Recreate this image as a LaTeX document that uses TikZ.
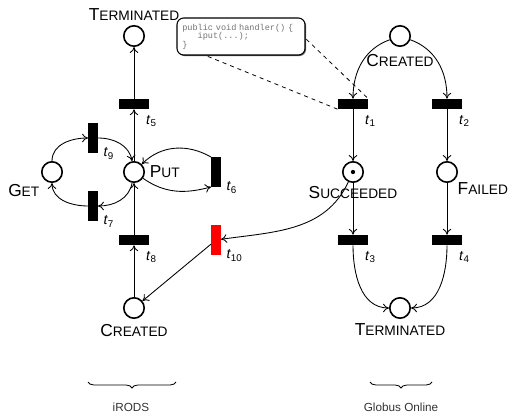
\documentclass[tikz,border=0pt]{standalone}
\usepackage{fontspec}
\setmainfont{Liberation Sans}
\newfontfamily\codefont{Liberation Mono}
\usetikzlibrary{arrows.meta, positioning, shadows, decorations.pathreplacing}

% state names in small capitals, transition names t_i
\newcommand\pn[2]{{\fontsize{13}{15}\selectfont #1\fontsize{10.3}{12}\selectfont\MakeUppercase{#2}}}
\newcommand\tn[1]{{\fontsize{10.5}{12}\selectfont\textit{t}\textsubscript{#1}}}

\begin{document}
\begin{tikzpicture}[
    x=0.75pt, y=0.75pt,
    node distance=51pt and 61.5pt, on grid,
    label distance=0pt,
    place/.style={
        circle,
        draw,
        line width=1.2pt,
        minimum size=15.3pt,
        inner sep=0pt
    },
    htrans/.style={
        rectangle,
        fill=black,
        minimum width=22.5pt,
        minimum height=7.5pt,
        inner sep=0pt
    },
    vtrans/.style={
        rectangle,
        fill=black,
        minimum width=7pt,
        minimum height=22pt,
        inner sep=0pt
    },
    hlab/.style={label={[anchor=north west, inner sep=0pt, xshift=-2.5pt, yshift=-4.5pt]south east:\tn{#1}}},
    vlab/.style={label={[anchor=north west, inner sep=0pt, xshift=4pt, yshift=4pt]south east:\tn{#1}}},
    every label/.style={inner sep=3.5pt},
    arrow/.style={
        -{To[length=4.5pt, width=6.5pt]},
        line width=0.65pt
    },
    codebox/.style={
        draw,
        fill=white,
        rounded corners=5pt,
        line width=0.8pt,
        minimum width=96pt,
        minimum height=27.75pt,
        text width=88pt,
        inner xsep=4pt,
        align=left,
        font=\codefont\fontsize{6.4}{6.4}\selectfont,
        text=black!55,
        drop shadow={shadow xshift=0.8pt, shadow yshift=-0.8pt, fill=black!60, opacity=1}
    },
    brace/.style={
        decorate,
        decoration={brace, mirror, amplitude=4.5pt},
        line width=0.6pt
    },
    grouplab/.style={
        font=\fontsize{8.8}{10}\selectfont,
        text=black!80
    }
]
    \useasboundingbox (0,0) rectangle (516,414);

    % iRODS net
    \node (put) [place, label={right:\pn{P}{ut}}] at (134,242) {};
    \node (t5) [htrans, hlab=5, above=of put] {};
    \node (termI) [place, label={above:\pn{T}{erminated}}, above=of t5] {};
    \node (t8) [htrans, hlab=8, below=of put] {};
    \node (creI) [place, label={below:\pn{C}{reated}}, below=of t8] {};
    \node (t9) [vtrans, vlab=9, above left=25.5pt and 30.75pt of put] {};
    \node (t7) [vtrans, vlab=7, below left=25.5pt and 30.75pt of put] {};
    \node (get) [place, label={below left:\pn{G}{et}}, left=of put] {};
    \node (t6) [vtrans, vlab=6, right=of put] {};
    \node (t10) [vtrans, fill=red, vlab=10, below=of t6] {};

    % Globus Online net
    \node (creO) [place, label={[inner sep=5pt]below:\pn{C}{reated}}] at (400,378) {};
    \node (t1) [htrans, hlab=1, below left=51pt and 35.25pt of creO] {};
    \node (t2) [htrans, hlab=2, below right=51pt and 35.25pt of creO] {};
    \node (succ) [place, label={[inner sep=2.5pt]below:\pn{S}{ucceeded}}, below=of t1] {};
    \node (succdot) [circle, fill=black, inner sep=0pt, minimum size=3.2pt] at (succ) {};
    \node (fail) [place, label={[inner sep=2pt]below right:\pn{F}{ailed}}, below=of t2] {};
    \node (t3) [htrans, hlab=3, below=of succ] {};
    \node (t4) [htrans, hlab=4, below=of fail] {};
    \node (termO) [place, label={below:\pn{T}{erminated}}, below right=51pt and 35.25pt of t3] {};

    % arcs
    \draw[arrow] (put) -- (t5);
    \draw[arrow] (t5) -- (termI);
    \draw[arrow] (creI) -- (t8);
    \draw[arrow] (t8) -- (put);
    \draw[arrow] (get) to[out=90, in=180] (t9);
    \draw[arrow] (t9) to[out=0, in=100] (put);
    \draw[arrow] (put) to[out=260, in=0] (t7);
    \draw[arrow] (t7) to[out=180, in=-90] (get);
    \draw[arrow] (put) to[out=-35, in=195] (t6.south west);
    \draw[arrow] (t6.north west) to[out=150, in=45] (put);
    \draw[arrow] (t10) -- (creI);
    \draw[arrow] (succ) to[out=245, in=8] (t10);

    \draw[arrow] (creO) to[out=200, in=90] (t1);
    \draw[arrow] (creO) to[out=-20, in=90] (t2);
    \draw[arrow] (t1) -- (succ);
    \draw[arrow] (t2) -- (fail);
    \draw[arrow] (succ) -- (t3);
    \draw[arrow] (fail) -- (t4);
    \draw[arrow] (t3) to[out=-90, in=180] (termO);
    \draw[arrow] (t4) to[out=-90, in=0] (termO);

    % handler code attached to t1
    \draw[line width=0.6pt, dash pattern=on 3pt off 3pt] (241,377.5) ++(-48,-13.9) coordinate (cSW) -- (t1.south west);
    \draw[line width=0.6pt, dash pattern=on 3pt off 3pt] (241,377.5) ++(48,13.9) coordinate (cNE) -- (t1.north east);
    \node (code) [codebox] at (241,377.5) {public void handler() \{\\\hphantom{iii}iput(...);\\\}};

    % groups
    \coordinate (irodsL) at (88,32);
    \coordinate (irodsR) at (176,32);
    \draw[brace] (irodsL) -- (irodsR);
    \node (irods) [grouplab] at (131,7) {iRODS};
    \coordinate (globusL) at (370,32);
    \coordinate (globusR) at (432,32);
    \draw[brace] (globusL) -- (globusR);
    \node (globus) [grouplab] at (401,7) {Globus Online};
\end{tikzpicture}
\end{document}
